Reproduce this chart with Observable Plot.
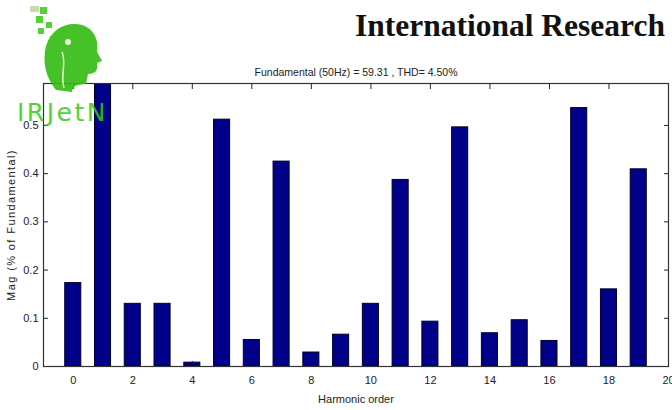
<!DOCTYPE html>
<html>
<head>
<meta charset="utf-8">
<script src="https://cdn.jsdelivr.net/npm/d3@7"></script>
<script src="https://cdn.jsdelivr.net/npm/@observablehq/plot@0.6"></script>
<style>
  html, body { margin: 0; padding: 0; background: #fff; }
  #wrap { position: relative; width: 672px; height: 410px; overflow: hidden; }
  #chart { position: absolute; left: 0; top: 0; }
  #header { position: absolute; right: 7px; top: 8px; font-family: "Liberation Serif", serif; font-weight: bold; font-size: 31.5px; color: #111; }
  #logo { position: absolute; left: 0; top: 0; width: 120px; height: 130px; opacity: 0.9; pointer-events: none; }
  #logotext { position: absolute; left: 17px; top: 98px; font-family: "DejaVu Sans", sans-serif; font-size: 25px; color: #33cc11; letter-spacing: 2.5px; opacity: 0.85; }
  svg text { font-family: "Liberation Sans Narrow", "Liberation Sans", sans-serif; }
  g[aria-label="y-axis label"] text { letter-spacing: 1.4px; }
</style>
</head>
<body>
<div id="wrap">
  <div id="chart"></div>
  <div id="header">International Research</div>
  <svg id="logo" width="120" height="130">
    <rect x="30" y="6" width="9" height="6" fill="#c8d8a0"/>
    <rect x="40" y="7" width="7" height="7" fill="#44cc22"/>
    <rect x="36" y="16" width="7" height="7" fill="#44cc22"/>
    <rect x="46" y="22" width="6" height="6" fill="#44cc22"/>
    <rect x="38" y="28" width="6" height="6" fill="#44cc22"/>
    <rect x="50" y="36" width="6" height="6" fill="#44cc22"/>
    <path d="M56,90 C46,78 42,62 46,46 C51,28 68,21 82,25 C95,29 99,42 97,52 L102,61 L97,63 C98,70 96,74 88,74 L86,84 C78,84 72,86 72,92 Z" fill="#33bb11"/>
    <path d="M62,52 C67,64 60,74 64,88" stroke="#e8f5d0" stroke-width="1.5" fill="none"/>
    <circle cx="68" cy="42" r="3" fill="#e8f5d0"/>
  </svg>
  <div id="logotext">IRJetN</div>
</div>
<script>
const harmonics = [0,1,2,3,4,5,6,7,8,9,10,11,12,13,14,15,16,17,18,19];
const magnitudes = [0.173,100,0.130,0.130,0.008,0.512,0.055,0.425,0.029,0.066,0.130,0.387,0.093,0.496,0.069,0.096,0.053,0.536,0.160,0.409];
const xTicks = [0,2,4,6,8,10,12,14,16,18,20];
const yTicks = [0,0.1,0.2,0.3,0.4,0.5];
const titleText = "Fundamental (50Hz) = 59.31 , THD= 4.50%";
const xLabel = "Harmonic order";
const yLabel = "Mag (% of Fundamental)";

const data = harmonics.map((h, i) => ({h, v: magnitudes[i]}));
const halfWidth = 0.27;
const ink = "#222";

const chart = Plot.plot({
  width: 672,
  height: 410,
  marginLeft: 43,
  marginRight: 4,
  marginTop: 83,
  marginBottom: 44,
  style: {background: "transparent", color: ink, fontSize: "11px"},
  x: {domain: [-1, 20]},
  y: {domain: [0, 0.587]},
  marks: [
    Plot.axisX({anchor: "bottom", ticks: xTicks, tickSize: 5, dy: -5, text: null, label: null, stroke: ink}),
    Plot.axisX({anchor: "top", ticks: xTicks, tickSize: 5, dy: 5, text: null, label: null, stroke: ink}),
    Plot.axisY({anchor: "left", ticks: yTicks, tickSize: 5, dx: 5, text: null, label: null, stroke: ink}),
    Plot.axisY({anchor: "right", ticks: yTicks, tickSize: 5, dx: -5, text: null, label: null, stroke: ink}),
    Plot.rectY(data, {
      x1: d => d.h - halfWidth,
      x2: d => d.h + halfWidth,
      y: "v",
      fill: "#000088",
      stroke: "#00002a",
      strokeWidth: 1,
      clip: true
    }),
    Plot.frame({stroke: "#333", strokeWidth: 1.2}),
    Plot.axisX({anchor: "bottom", ticks: xTicks, tickSize: 0, tickPadding: 10, tickFormat: d => String(d),
      label: xLabel, labelAnchor: "center", labelArrow: "none", labelOffset: 36, fontSize: 11}),
    Plot.axisY({anchor: "left", ticks: yTicks, tickSize: 0, tickPadding: 5, tickFormat: d => d === 0 ? "0" : d.toFixed(1),
      label: yLabel, labelAnchor: "center", labelArrow: "none", labelOffset: 36, fontSize: 11}),
    Plot.text([titleText], {frameAnchor: "top", dy: -15, text: d => d, fontSize: 10.5, fill: ink})
  ]
});
document.getElementById("chart").appendChild(chart);
</script>
</body>
</html>
